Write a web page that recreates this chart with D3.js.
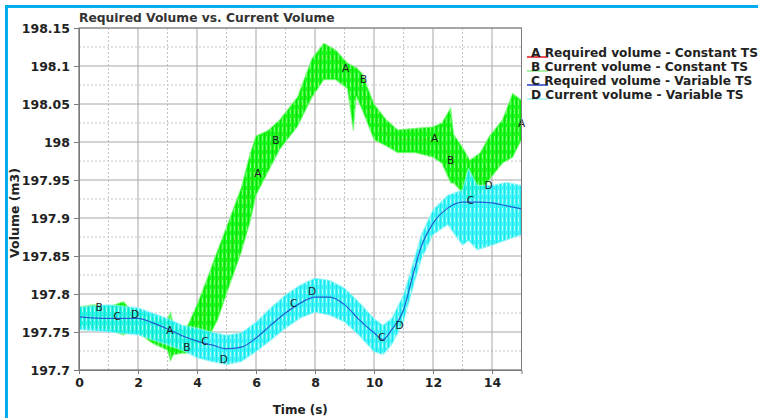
<!DOCTYPE html>
<html>
<head>
<meta charset="utf-8">
<script src="https://cdn.jsdelivr.net/npm/d3@7"></script>
<style>
  body { margin: 0; background: #fff; }
  svg { display: block; }
  text { font-family: "DejaVu Sans", sans-serif; }
</style>
</head>
<body>
<div id="chart"></div>
<script>
var width = 758, height = 418;

// A - required volume, constant time step (thin red line)
var aTime = [0, 1, 2, 3, 3.6, 4, 4.5, 5, 5.5, 6, 6.5, 7, 7.5, 8, 8.3, 8.7, 9.2, 9.6, 10, 10.5, 11, 11.5, 12, 12.5, 13, 13.3, 13.7, 14, 14.5, 15];
var aVol  = [197.770, 197.768, 197.764, 197.748, 197.738, 197.760, 197.800, 197.845, 197.898, 197.968, 197.995, 198.020, 198.045, 198.090, 198.113, 198.108, 198.090, 198.068, 198.030, 198.010, 198.003, 198.003, 198.002, 197.985, 197.955, 197.945, 197.960, 197.978, 198.000, 198.025];

// B - current volume, constant time step (noisy green band: low / high envelope)
var bTime = [0, 0.5, 1, 1.5, 1.7, 2, 2.5, 3, 3.1, 3.2, 3.5, 3.7, 4, 4.4, 4.7, 5, 5.5, 5.8, 6, 6.4, 6.8, 7.4, 7.9, 8.3, 8.7, 9.1, 9.3, 9.4, 9.6, 10, 10.4, 10.8, 11.4, 12, 12.3, 12.6, 12.7, 13, 13.25, 13.6, 13.9, 14.35, 14.7, 15];
var bLow  = [197.757, 197.755, 197.753, 197.746, 197.750, 197.749, 197.735, 197.726, 197.712, 197.720, 197.722, 197.722, 197.733, 197.743, 197.766, 197.800, 197.855, 197.895, 197.930, 197.960, 197.990, 198.020, 198.059, 198.082, 198.082, 198.070, 198.015, 198.060, 198.042, 198.003, 197.995, 197.986, 197.986, 197.980, 197.972, 197.946, 197.946, 197.933, 197.924, 197.933, 197.950, 197.972, 197.980, 198.003];
var bHigh = [197.783, 197.786, 197.783, 197.790, 197.782, 197.779, 197.770, 197.766, 197.776, 197.760, 197.753, 197.760, 197.786, 197.826, 197.858, 197.888, 197.940, 197.985, 198.008, 198.015, 198.029, 198.059, 198.110, 198.130, 198.121, 198.104, 198.100, 198.098, 198.090, 198.050, 198.030, 198.016, 198.018, 198.020, 198.025, 198.045, 198.010, 197.993, 197.976, 197.986, 198.007, 198.029, 198.064, 198.055];

// C - required volume, variable time step (blue line)
var cTime = [0, 1, 2, 2.5, 3, 3.5, 4, 4.5, 5, 5.5, 6, 6.5, 7, 7.5, 8, 8.5, 9, 9.5, 10, 10.3, 10.6, 11, 11.3, 11.6, 12, 12.5, 13, 13.5, 14, 14.5, 15];
var cVol  = [197.770, 197.768, 197.768, 197.762, 197.754, 197.745, 197.738, 197.733, 197.728, 197.730, 197.742, 197.759, 197.775, 197.788, 197.796, 197.796, 197.786, 197.766, 197.749, 197.740, 197.753, 197.779, 197.822, 197.862, 197.893, 197.913, 197.921, 197.921, 197.920, 197.916, 197.912];

// D - current volume, variable time step (noisy cyan band)
var dTime = [0, 1, 2, 3, 3.5, 4, 4.5, 5, 5.5, 6, 6.5, 7, 7.5, 8, 8.5, 9, 9.5, 10, 10.3, 10.6, 11, 11.3, 11.6, 12, 12.5, 13, 13.2, 13.5, 14, 14.5, 15];
var dLow  = [197.753, 197.750, 197.746, 197.733, 197.726, 197.716, 197.711, 197.707, 197.711, 197.724, 197.739, 197.755, 197.768, 197.776, 197.772, 197.763, 197.745, 197.724, 197.720, 197.733, 197.763, 197.805, 197.845, 197.878, 197.891, 197.864, 197.870, 197.858, 197.864, 197.871, 197.878];
var dHigh = [197.783, 197.786, 197.782, 197.768, 197.759, 197.755, 197.750, 197.746, 197.749, 197.763, 197.782, 197.799, 197.812, 197.821, 197.818, 197.808, 197.789, 197.768, 197.759, 197.768, 197.799, 197.838, 197.878, 197.911, 197.930, 197.937, 197.965, 197.943, 197.943, 197.947, 197.943];

// letter markers placed along each curve
var markLetters = ["A", "B", "C", "D"];
var markTime = [
  [3.08, 6.06, 9.04, 12.05, 15.0],
  [0.68, 3.66, 6.67, 9.65, 12.6],
  [1.29, 4.27, 7.28, 10.26, 13.27],
  [1.9, 4.91, 7.9, 10.87, 13.88]
];
var markVol = [
  [197.753, 197.959, 198.097, 198.005, 198.025],
  [197.782, 197.730, 198.003, 198.083, 197.976],
  [197.771, 197.738, 197.788, 197.743, 197.924],
  [197.774, 197.714, 197.804, 197.759, 197.943]
];

var legendNames = [
  "Required volume - Constant TS",
  "Current volume - Constant TS",
  "Required volume - Variable TS",
  "Current volume - Variable TS"
];
var legendColors = ["#e8141b", "#8ee88e", "#1f3fc8", "#9ff0f0"];

var xTicks = [0, 2, 4, 6, 8, 10, 12, 14];
var xMinor = [1, 3, 5, 7, 9, 11, 13, 15];
var yTicks = [197.7, 197.75, 197.8, 197.85, 197.9, 197.95, 198, 198.05, 198.1, 198.15];
var yMinor = [197.725, 197.775, 197.825, 197.875, 197.925, 197.975, 198.025, 198.075, 198.125];

var svg = d3.select("#chart").append("svg")
    .attr("width", width)
    .attr("height", height);

var x = d3.scaleLinear().domain([0, 15]).range([79, 521.5]);
var y = d3.scaleLinear().domain([197.7, 198.15]).range([370, 28]);

// outer frame of the screenshot
svg.append("path")
    .attr("d", "M6.5," + height + "V6.5H" + width)
    .attr("fill", "none")
    .attr("stroke", "#00aeef")
    .attr("stroke-width", 3);

// noise-like textures
var defs = svg.append("defs");
function stripes(id, base, dark, light) {
    var p = defs.append("pattern")
        .attr("id", id)
        .attr("patternUnits", "userSpaceOnUse")
        .attr("width", 4).attr("height", 9);
    p.append("rect").attr("width", 4).attr("height", 9).attr("fill", base);
    p.append("rect").attr("x", 0).attr("width", 1).attr("height", 9).attr("fill", dark);
    p.append("rect").attr("x", 2).attr("y", 1).attr("width", 1).attr("height", 5).attr("fill", light);
}
stripes("greenNoise", "#1cf81c", "#00e600", "#7dff7d");
stripes("cyanNoise", "#30f4f8", "#00e4ee", "#a4fcfc");

defs.append("clipPath").attr("id", "plotClip")
  .append("rect")
    .attr("x", x(0)).attr("y", y(198.15))
    .attr("width", x(15) - x(0)).attr("height", y(197.7) - y(198.15));

// grid
var grid = svg.append("g");
grid.selectAll(".xminor").data(xMinor).enter().append("line")
    .attr("x1", function (d) { return x(d); }).attr("x2", function (d) { return x(d); })
    .attr("y1", y(198.15)).attr("y2", y(197.7))
    .attr("stroke", "#c4c4c4").attr("stroke-dasharray", "2,2");
grid.selectAll(".yminor").data(yMinor).enter().append("line")
    .attr("x1", x(0)).attr("x2", x(15))
    .attr("y1", function (d) { return y(d); }).attr("y2", function (d) { return y(d); })
    .attr("stroke", "#c4c4c4").attr("stroke-dasharray", "2,2");
grid.selectAll(".xmajor").data(xTicks).enter().append("line")
    .attr("x1", function (d) { return x(d); }).attr("x2", function (d) { return x(d); })
    .attr("y1", y(198.15)).attr("y2", y(197.7))
    .attr("stroke", "#a8a8a8");
grid.selectAll(".ymajor").data(yTicks).enter().append("line")
    .attr("x1", x(0)).attr("x2", x(15))
    .attr("y1", function (d) { return y(d); }).attr("y2", function (d) { return y(d); })
    .attr("stroke", "#a8a8a8");

// series
var plot = svg.append("g").attr("clip-path", "url(#plotClip)");

function pairs(ts, vs) {
    return ts.map(function (t, i) { return [t, vs[i]]; });
}
function band(ts, lo, hi) {
    return ts.map(function (t, i) { return [t, lo[i], hi[i]]; });
}
var line = d3.line()
    .x(function (d) { return x(d[0]); })
    .y(function (d) { return y(d[1]); })
    .curve(d3.curveMonotoneX);
var area = d3.area()
    .x(function (d) { return x(d[0]); })
    .y0(function (d) { return y(d[1]); })
    .y1(function (d) { return y(d[2]); })
    .curve(d3.curveLinear);

plot.append("path")
    .attr("d", line(pairs(aTime, aVol)))
    .attr("fill", "none").attr("stroke", "#e8141b").attr("stroke-width", 1);

plot.append("path")
    .attr("d", area(band(bTime, bLow, bHigh)))
    .attr("fill", "url(#greenNoise)")
    .attr("stroke", "#80fb80").attr("stroke-width", 1.2).attr("stroke-opacity", 0.7);

// red line shows faintly through the green
plot.append("path")
    .attr("d", line(pairs(aTime, aVol)))
    .attr("fill", "none").attr("stroke", "#c85a10").attr("stroke-width", 0.8)
    .attr("opacity", 0.2);

plot.append("path")
    .attr("d", area(band(dTime, dLow, dHigh)))
    .attr("fill", "url(#cyanNoise)")
    .attr("stroke", "#9ff7f7").attr("stroke-width", 1.2).attr("stroke-opacity", 0.7)
    .attr("opacity", 0.9);

plot.append("path")
    .attr("d", line(pairs(cTime, cVol)))
    .attr("fill", "none").attr("stroke", "#1f5fcf").attr("stroke-width", 1.2);

// letter markers
markLetters.forEach(function (letter, s) {
    svg.append("g").selectAll("text")
        .data(pairs(markTime[s], markVol[s]))
        .enter().append("text")
        .attr("x", function (d) { return x(d[0]); })
        .attr("y", function (d) { return y(d[1]); })
        .attr("dy", "0.36em")
        .attr("text-anchor", "middle")
        .attr("font-size", 10.5)
        .attr("fill", "#1a1a1a")
        .text(letter);
});

// frame
svg.append("rect")
    .attr("x", x(0)).attr("y", y(198.15))
    .attr("width", x(15) - x(0)).attr("height", y(197.7) - y(198.15))
    .attr("fill", "none").attr("stroke", "#7a7a7a");

// axes
var yAxis = svg.append("g")
    .attr("transform", "translate(" + x(0) + ",0)")
    .call(d3.axisLeft(y).tickValues(yTicks).tickSize(5).tickPadding(4)
        .tickFormat(function (d) { return String(+d.toFixed(3)); }));
var xAxis = svg.append("g")
    .attr("transform", "translate(0," + y(197.7) + ")")
    .call(d3.axisBottom(x).tickValues(xTicks).tickSize(4).tickPadding(4));
[xAxis, yAxis].forEach(function (g) {
    g.select(".domain").attr("stroke", "#7a7a7a");
    g.selectAll(".tick line").attr("stroke", "#7a7a7a");
    g.selectAll(".tick text")
        .attr("font-family", "DejaVu Sans, sans-serif")
        .attr("font-weight", "bold")
        .attr("font-size", 12.5)
        .attr("fill", "#222");
});

// titles
svg.append("text")
    .attr("x", 79).attr("y", 22)
    .attr("font-size", 12.3).attr("font-weight", "bold").attr("fill", "#333")
    .text("Required Volume vs. Current Volume");
svg.append("text")
    .attr("x", (x(0) + x(15)) / 2).attr("y", 414)
    .attr("text-anchor", "middle")
    .attr("font-size", 12).attr("font-weight", "bold").attr("fill", "#222")
    .text("Time (s)");
svg.append("text")
    .attr("transform", "translate(19," + ((y(197.7) + y(198.15)) / 2 + 14) + ") rotate(-90)")
    .attr("text-anchor", "middle")
    .attr("font-size", 12.5).attr("font-weight", "bold").attr("fill", "#222")
    .text("Volume (m3)");

// legend
var legend = svg.append("g");
legendNames.forEach(function (name, i) {
    var by = 57 + i * 14;
    legend.append("line")
        .attr("x1", 527).attr("x2", 548)
        .attr("y1", by).attr("y2", by)
        .attr("stroke", legendColors[i]).attr("stroke-width", 1.5);
    legend.append("text")
        .attr("x", 531).attr("y", by)
        .attr("font-size", 12.2).attr("font-weight", "bold").attr("fill", "#222")
        .text(markLetters[i] + " " + name);
});
</script>
</body>
</html>
